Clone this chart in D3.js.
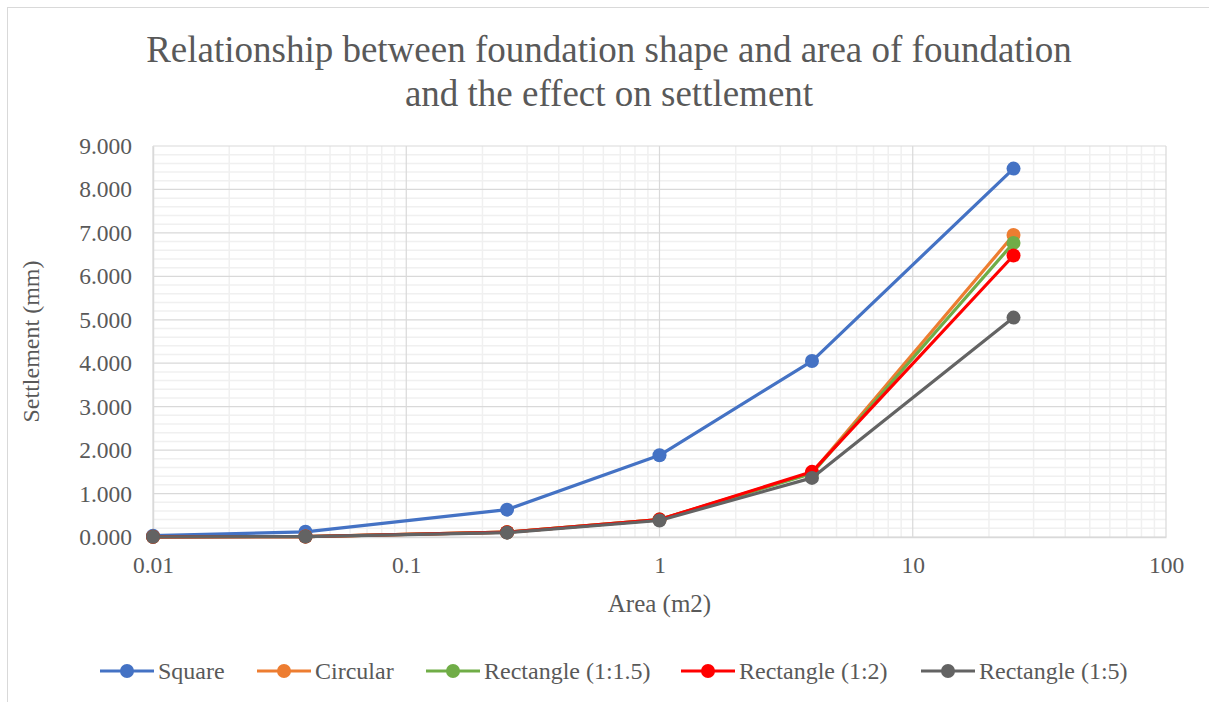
<!DOCTYPE html>
<html>
<head>
<meta charset="utf-8">
<script src="https://cdn.jsdelivr.net/npm/d3@7"></script>
<style>
  body { margin: 0; background: #fff; }
  text { font-family: "Liberation Serif", "Times New Roman", serif; fill: #595959; }
</style>
</head>
<body>
<script>
// Chart data
var areas = [0.01, 0.04, 0.25, 1, 4, 25];
var seriesNames = ["Square", "Circular", "Rectangle (1:1.5)", "Rectangle (1:2)", "Rectangle (1:5)"];
var square = [0.03, 0.12, 0.63, 1.88, 4.05, 8.48];
var circular = [0.005, 0.01, 0.11, 0.40, 1.48, 6.95];
var rect15 = [0.005, 0.01, 0.11, 0.40, 1.46, 6.77];
var rect12 = [0.005, 0.01, 0.11, 0.40, 1.50, 6.48];
var rect15b = [0.005, 0.01, 0.10, 0.38, 1.36, 5.05];
var colors = ["#4472C4", "#ED7D31", "#70AD47", "#FF0000", "#636363"];
var xTicks = [0.01, 0.1, 1, 10, 100];
var yTicks = [0, 1, 2, 3, 4, 5, 6, 7, 8, 9];

var W = 1209, H = 702;
var margin = { top: 146, right: 43, bottom: 165, left: 153 }
    , width = W - margin.left - margin.right
    , height = H - margin.top - margin.bottom;

var svg = d3.select("body").append("svg")
    .attr("width", W)
    .attr("height", H);

// outer chart border (only top/left visible in the picture)
svg.append("rect")
    .attr("x", 7.5).attr("y", 7.5)
    .attr("width", W + 10).attr("height", H + 10)
    .attr("fill", "none").attr("stroke", "#d9d9d9");

var xScale = d3.scaleLog()
    .domain([0.01, 100])
    .range([0, width]);

var yScale = d3.scaleLinear()
    .domain([0, 9])
    .range([height, 0]);

var g = svg.append("g")
    .attr("transform", "translate(" + margin.left + "," + margin.top + ")");

// minor gridlines
var minorX = [];
[0.01, 0.1, 1, 10].forEach(function (d) {
    for (var k = 2; k <= 9; k++) minorX.push(d * k);
});
var minorY = d3.range(0, 9.001, 0.2).filter(function (d) { return Math.abs(d - Math.round(d)) > 0.01; });

g.selectAll(".minor-x").data(minorX).enter().append("line")
    .attr("x1", function (d) { return xScale(d); }).attr("x2", function (d) { return xScale(d); })
    .attr("y1", 0).attr("y2", height)
    .attr("stroke", "#f0f0f0").attr("stroke-width", 1.5);

g.selectAll(".minor-y").data(minorY).enter().append("line")
    .attr("x1", 0).attr("x2", width)
    .attr("y1", function (d) { return yScale(d); }).attr("y2", function (d) { return yScale(d); })
    .attr("stroke", "#f0f0f0").attr("stroke-width", 1.5);

// major gridlines
g.selectAll(".major-x").data(xTicks).enter().append("line")
    .attr("x1", function (d) { return xScale(d); }).attr("x2", function (d) { return xScale(d); })
    .attr("y1", 0).attr("y2", height)
    .attr("stroke", "#d9d9d9").attr("stroke-width", 1.2);

g.selectAll(".major-y").data(yTicks).enter().append("line")
    .attr("x1", 0).attr("x2", width)
    .attr("y1", function (d) { return yScale(d); }).attr("y2", function (d) { return yScale(d); })
    .attr("stroke", "#d9d9d9").attr("stroke-width", 1.2);

// axes (labels only, Excel style)
var xAxis = g.append("g")
    .attr("transform", "translate(0," + height + ")")
    .call(d3.axisBottom(xScale).tickValues(xTicks).tickSize(0).tickPadding(19)
        .tickFormat(function (d) { return String(d); }));
xAxis.select(".domain").attr("stroke", "#d9d9d9").attr("stroke-width", 1.5);
xAxis.selectAll("text").style("font-size", "23.5px").attr("fill", "#595959");

var yAxis = g.append("g")
    .call(d3.axisLeft(yScale).tickValues(yTicks).tickSize(0).tickPadding(21)
        .tickFormat(d3.format(".3f")));
yAxis.select(".domain").attr("stroke", "#d9d9d9").attr("stroke-width", 1.5);
yAxis.selectAll("text").style("font-size", "23.5px").attr("fill", "#595959");

// series
var allSeries = [square, circular, rect15, rect12, rect15b];
var line = d3.line()
    .x(function (d, i) { return xScale(areas[i]); })
    .y(function (d) { return yScale(d); });

allSeries.forEach(function (s, si) {
    g.append("path")
        .datum(s)
        .attr("fill", "none")
        .attr("stroke", colors[si])
        .attr("stroke-width", 3.2)
        .attr("stroke-linejoin", "round")
        .attr("d", line);
    g.selectAll(".dot" + si)
        .data(s)
        .enter().append("circle")
        .attr("cx", function (d, i) { return xScale(areas[i]); })
        .attr("cy", function (d) { return yScale(d); })
        .attr("r", 7)
        .attr("fill", colors[si]);
});

// title
var title = svg.append("text")
    .attr("x", 609).attr("y", 62)
    .attr("text-anchor", "middle")
    .style("font-size", "37px");
title.append("tspan").attr("x", 609).text("Relationship between foundation shape and area of foundation");
title.append("tspan").attr("x", 609).attr("dy", 44).text("and the effect on settlement");

// axis titles
svg.append("text")
    .attr("x", margin.left + width / 2).attr("y", 612)
    .attr("text-anchor", "middle")
    .style("font-size", "25px")
    .text("Area (m2)");

svg.append("text")
    .attr("transform", "translate(39," + (margin.top + height / 2) + ") rotate(-90)")
    .attr("text-anchor", "middle")
    .style("font-size", "24px")
    .text("Settlement (mm)");

// legend
var legendX = [100, 257, 426, 681, 921];
var leg = svg.selectAll(".legend").data(seriesNames).enter().append("g")
    .attr("transform", function (d, i) { return "translate(" + legendX[i] + ",671)"; });
leg.append("line")
    .attr("x1", 0).attr("x2", 54).attr("y1", 0).attr("y2", 0)
    .attr("stroke", function (d, i) { return colors[i]; })
    .attr("stroke-width", 3.2);
leg.append("circle")
    .attr("cx", 27).attr("cy", 0).attr("r", 7)
    .attr("fill", function (d, i) { return colors[i]; });
leg.append("text")
    .attr("x", 58).attr("y", 8)
    .style("font-size", "24px")
    .text(function (d) { return d; });
</script>
</body>
</html>
